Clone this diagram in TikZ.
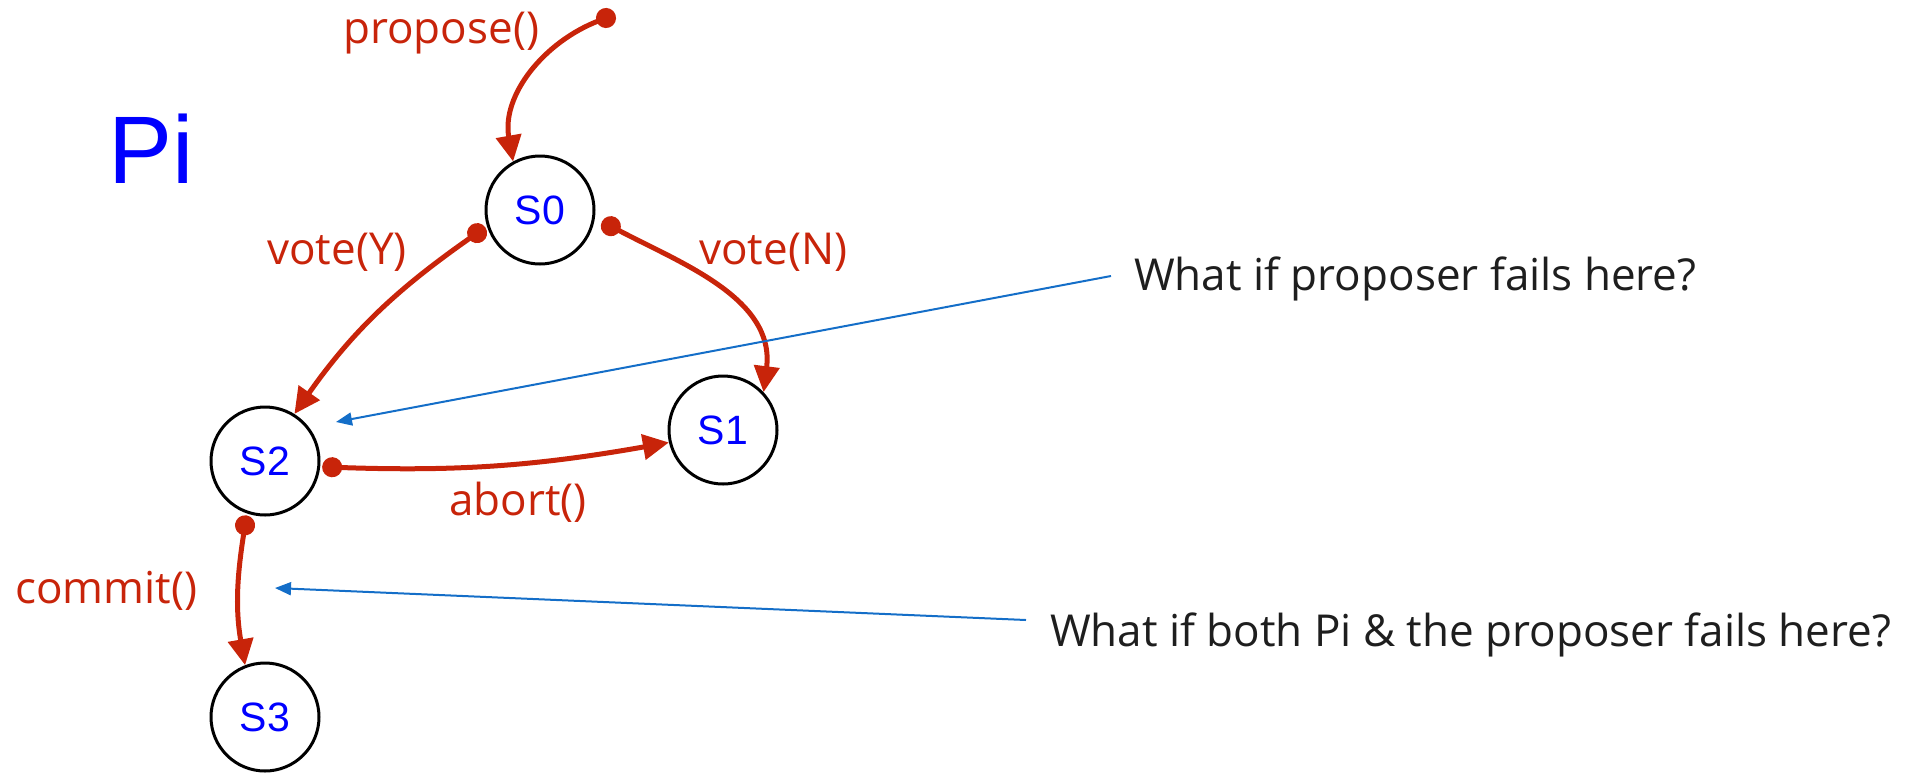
\documentclass[tikz,border=0pt]{standalone}
\usepackage{fontspec}
\setmainfont{Open Sans}
\newfontfamily\arialf{Liberation Sans}
\usetikzlibrary{arrows.meta}
\definecolor{ared}{RGB}{200,36,10}
\definecolor{ablue}{RGB}{20,110,200}
\definecolor{sblue}{RGB}{0,0,255}
\definecolor{tgray}{RGB}{30,30,30}
\begin{document}
\begin{tikzpicture}[x=1pt,y=1pt,
  state/.style={circle,draw=black,line width=3pt,minimum size=108pt,inner sep=0pt,
    font=\arialf\fontsize{41}{41}\selectfont,text=sblue},
  lab/.style={anchor=base west,inner sep=0pt,text=ared,font=\fontsize{44}{44}\selectfont},
  note/.style={anchor=base west,inner sep=0pt,text=tgray,font=\fontsize{44}{44}\selectfont},
  trans/.style={draw=ared,line width=5pt,shorten <=2pt,
    {Circle[length=20pt]}-{Triangle[length=26pt,width=25pt]}},
  pointer/.style={draw=ablue,line width=2pt,-{Triangle[length=16pt,width=13pt]}}
]
\useasboundingbox (0,0) rectangle (1919,-772);

% title
\node[anchor=base west,inner sep=0pt,text=sblue,font=\arialf\fontsize{96}{96}\selectfont] (pi) at (108,-183) {Pi};

% states
\node[state] (S0) at (540,-210) {S0};
\node[state] (S1) at (723,-430) {S1};
\node[state] (S2) at (265,-461) {S2};
\node[state] (S3) at (265,-717) {S3};

% labels
\node[lab] (lpropose) at (343,-43) {propose()};
\node[lab] (lvotey) at (267,-264) {vote(Y)};
\node[lab] (lvoten) at (699,-264) {vote(N)};
\node[lab] (labort) at (449,-515) {abort()};
\node[lab] (lcommit) at (15,-603) {commit()};

% notes
\node[note] (q1) at (1134,-290) {What if proposer fails here?};
\node[note] (q2) at (1050,-646) {What if both Pi \& the proposer fails here?};

% free ends
\coordinate (pstart) at (606,-18);
\coordinate (b1s) at (1111,-276);
\coordinate (b1e) at (336,-422);
\coordinate (b2s) at (1026,-620);
\coordinate (b2e) at (275,-588);

% transitions
\draw[trans,shorten <=-10pt] (pstart) to[out=201,in=100] (S0.119);
\draw[trans] (S0.197) to[out=215,in=55] (S2.58);
\draw[trans,shorten <=8pt] (S0.-8) to[out=-28,in=83] (S1.43);
\draw[trans] (S2.-6) to[out=-2,in=190] (S1.193);
\draw[trans] (S2.251) to[out=261,in=100] (S3.111);

% pointers
\draw[pointer] (b1s) -- (b1e);
\draw[pointer] (b2s) -- (b2e);
\end{tikzpicture}
\end{document}
